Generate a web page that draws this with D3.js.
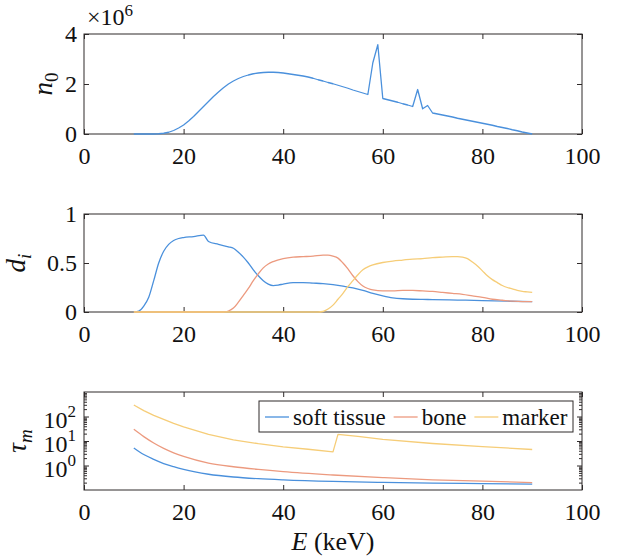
<!DOCTYPE html>
<html>
<head>
<meta charset="utf-8">
<script src="https://cdn.jsdelivr.net/npm/d3@7"></script>
<style>
  body { margin: 0; background: #fff; }
  svg { display: block; }
</style>
</head>
<body>
<svg id="chart" width="619" height="560" font-family="Liberation Serif"></svg>
<script>
// ---- data ----
var xTicks = [0, 20, 40, 60, 80, 100];

// incident spectrum n0 (x 10^6)
var spectrumEnergy = [10, 11, 12, 13, 14, 15, 16, 17, 18, 19, 20, 21, 22, 23, 24, 25, 26, 27, 28, 29,
  30, 31, 32, 33, 34, 35, 36, 37, 38, 39, 40, 41, 42, 43, 44, 45, 46, 47, 48, 49,
  50, 51, 52, 53, 54, 55, 56, 57, 58, 59, 60, 61, 62, 63, 64, 65, 66, 67, 68, 69,
  70, 71, 72, 73, 74, 75, 76, 77, 78, 79, 80, 81, 82, 83, 84, 85, 86, 87, 88, 89, 90];
var spectrumCounts = [0, 0, 0, 0, 0, 0.01, 0.03, 0.07, 0.14, 0.24, 0.36, 0.52, 0.70, 0.90, 1.10, 1.30, 1.50, 1.68, 1.85, 2.00,
  2.12, 2.22, 2.30, 2.36, 2.41, 2.44, 2.46, 2.47, 2.47, 2.46, 2.44, 2.41, 2.38, 2.35, 2.32, 2.28, 2.23, 2.17, 2.12, 2.06,
  2.01, 1.95, 1.89, 1.83, 1.76, 1.70, 1.64, 1.58, 2.85, 3.57, 1.42, 1.37, 1.32, 1.27, 1.21, 1.16, 1.10, 1.78, 1.01, 1.14,
  0.84, 0.80, 0.76, 0.72, 0.68, 0.63, 0.59, 0.55, 0.51, 0.47, 0.43, 0.39, 0.35, 0.30, 0.26, 0.22, 0.17, 0.13, 0.08, 0.04, 0];
var n0Ticks = [0, 2, 4];

// d_i per material
var tissueDEnergy = [10, 11, 12, 13, 14, 15, 16, 17, 18, 19, 20, 22, 24, 25, 27, 29, 30, 31, 32, 33, 34, 35, 36, 37, 38, 39,
  40, 42, 44, 46, 48, 50, 52, 54, 56, 58, 60, 62, 64, 66, 68, 70, 75, 80, 85, 90];
var tissueD = [0, 0.01, 0.06, 0.15, 0.32, 0.50, 0.62, 0.69, 0.73, 0.75, 0.76, 0.77, 0.785, 0.72, 0.69, 0.665, 0.65, 0.61, 0.56, 0.50, 0.43, 0.37, 0.32, 0.285, 0.27, 0.275,
  0.285, 0.30, 0.30, 0.295, 0.29, 0.28, 0.265, 0.245, 0.22, 0.19, 0.165, 0.145, 0.135, 0.13, 0.128, 0.127, 0.122, 0.117, 0.11, 0.105];
var boneDEnergy = [10, 28, 29, 30, 31, 32, 33, 34, 35, 36, 37, 38, 40, 42, 44, 46, 48, 49, 50, 51, 52, 53, 54, 55, 56, 57, 58,
  60, 62, 64, 66, 68, 70, 72, 74, 76, 78, 80, 82, 84, 86, 88, 90];
var boneD = [0, 0, 0.01, 0.04, 0.10, 0.17, 0.24, 0.32, 0.39, 0.45, 0.49, 0.515, 0.545, 0.56, 0.565, 0.57, 0.58, 0.58, 0.57, 0.55, 0.50, 0.44, 0.37, 0.31, 0.265, 0.24, 0.225,
  0.215, 0.215, 0.22, 0.22, 0.215, 0.21, 0.20, 0.19, 0.18, 0.165, 0.15, 0.13, 0.12, 0.11, 0.105, 0.105];
var markerDEnergy = [10, 47, 48, 49, 50, 51, 52, 53, 54, 55, 56, 57, 58, 60, 62, 64, 66, 68, 70, 72, 74, 75, 76, 77, 78, 79,
  80, 81, 82, 83, 84, 85, 86, 87, 88, 89, 90];
var markerD = [0, 0, 0.005, 0.03, 0.07, 0.13, 0.19, 0.26, 0.32, 0.38, 0.43, 0.46, 0.48, 0.505, 0.52, 0.53, 0.54, 0.545, 0.555, 0.56, 0.565, 0.565, 0.56, 0.545, 0.51, 0.47,
  0.42, 0.37, 0.33, 0.30, 0.27, 0.25, 0.235, 0.22, 0.21, 0.205, 0.20];
var dTicks = [0, 0.5, 1];

// tau_m per material (log axis)
var tauEnergy = [10, 12, 14, 16, 18, 20, 25, 30, 35, 40, 50, 60, 70, 80, 90];
var tissueTau = [5.2, 2.8, 1.78, 1.2, 0.89, 0.69, 0.44, 0.34, 0.29, 0.26, 0.224, 0.204, 0.19, 0.182, 0.174];
var boneTau = [30, 15.1, 8.3, 5.0, 3.3, 2.34, 1.26, 0.89, 0.69, 0.56, 0.41, 0.32, 0.26, 0.23, 0.20];
var markerTauEnergy = [10, 12, 14, 16, 18, 20, 25, 30, 35, 40, 45, 50, 51, 55, 60, 70, 80, 90];
var markerTau = [295, 174, 112, 76, 52, 38, 18.6, 11.2, 7.8, 5.75, 4.6, 3.6, 18.6, 15.5, 11.7, 7.9, 5.9, 4.5];
var tauTicks = [1, 10, 100];
var tauMinorTicks = [0.2, 0.3, 0.4, 0.5, 0.6, 0.7, 0.8, 0.9, 2, 3, 4, 5, 6, 7, 8, 9,
  20, 30, 40, 50, 60, 70, 80, 90, 200, 300, 400, 500, 600, 700, 800, 900];

var legendNames = ["soft tissue", "bone", "marker"];
var seriesColors = ["#4a90dc", "#ec9a7f", "#f6cd78"];

// ---- layout ----
var serif = "Liberation Serif";
var axisColor = "#2f2a2a";
var textColor = "#111111";
var left = 84, right = 582;
var svg = d3.select("#chart");

var x = d3.scaleLinear().domain([0, 100]).range([left, right]);

function zip(xs, ys) {
  return xs.map(function (d, i) { return [d, ys[i]]; });
}

// plain text node with attributes only (no css)
function label(parent, px, py, size) {
  return parent.append("text")
    .attr("x", px).attr("y", py)
    .attr("font-family", serif)
    .attr("font-size", size)
    .attr("fill", textColor);
}

function drawFrame(top, height, y, yTicks, yFormat, yMinor) {
  var bottom = top + height;
  var g = svg.append("g").attr("color", axisColor);

  g.append("g").attr("transform", "translate(0," + bottom + ")")
    .call(d3.axisBottom(x).tickValues(xTicks).tickSizeInner(-5).tickSizeOuter(0)
      .tickPadding(13).tickFormat(d3.format("d")));
  g.append("g").attr("transform", "translate(0," + top + ")")
    .call(d3.axisTop(x).tickValues(xTicks).tickSizeInner(-5).tickSizeOuter(0).tickFormat(""));

  g.append("g").attr("transform", "translate(" + left + ",0)")
    .call(d3.axisLeft(y).tickValues(yTicks).tickSizeInner(-5).tickSizeOuter(0)
      .tickPadding(7).tickFormat(yFormat || ""));
  g.append("g").attr("transform", "translate(" + right + ",0)")
    .call(d3.axisRight(y).tickValues(yTicks).tickSizeInner(-5).tickSizeOuter(0).tickFormat(""));

  if (yMinor) {
    g.append("g").attr("transform", "translate(" + left + ",0)")
      .call(d3.axisLeft(y).tickValues(yMinor).tickSizeInner(-3).tickSizeOuter(0).tickFormat(""));
    g.append("g").attr("transform", "translate(" + right + ",0)")
      .call(d3.axisRight(y).tickValues(yMinor).tickSizeInner(-3).tickSizeOuter(0).tickFormat(""));
  }

  g.selectAll(".domain").remove();
  g.selectAll("g").attr("font-family", serif).attr("font-size", 24);
  g.selectAll(".tick text")
    .attr("font-family", serif).attr("font-size", 24).attr("fill", textColor);

  g.append("rect")
    .attr("x", left).attr("y", top)
    .attr("width", right - left).attr("height", height)
    .attr("fill", "none").attr("stroke", axisColor).attr("stroke-width", 1);
  return g;
}

function drawSeries(points, y, color, curve) {
  var line = d3.line()
    .x(function (d) { return x(d[0]); })
    .y(function (d) { return y(d[1]); })
    .curve(curve || d3.curveLinear);
  svg.append("path")
    .datum(points)
    .attr("fill", "none")
    .attr("stroke", color)
    .attr("stroke-width", 1.3)
    .attr("stroke-linejoin", "round")
    .attr("d", line);
}

function yLabel(cx, cy, main, sub, subItalic) {
  var t = label(svg, 0, 0, 27)
    .attr("transform", "translate(" + cx + "," + cy + ") rotate(-90)")
    .attr("text-anchor", "middle");
  t.append("tspan").attr("font-style", "italic").text(main);
  t.append("tspan").attr("dy", 6).attr("font-size", 19)
    .attr("font-style", subItalic ? "italic" : "normal").text(sub);
}

// ---- panel 1: spectrum ----
var y1 = d3.scaleLinear().domain([0, 4]).range([134, 34]);
drawFrame(34, 100, y1, n0Ticks, d3.format("d"));
drawSeries(zip(spectrumEnergy, spectrumCounts), y1, seriesColors[0]);
yLabel(52, 84, "n", "0", false);

var exp = label(svg, 87, 25, 24);
exp.append("tspan").text("\u00d710");
exp.append("tspan").attr("dy", -9).attr("font-size", 17).text("6");

// ---- panel 2: d_i ----
var y2 = d3.scaleLinear().domain([0, 1]).range([312, 214]);
drawFrame(214, 98, y2, dTicks, function (d) { return d === 0.5 ? "0.5" : d3.format("d")(d); });
drawSeries(zip(tissueDEnergy, tissueD), y2, seriesColors[0], d3.curveMonotoneX);
drawSeries(zip(boneDEnergy, boneD), y2, seriesColors[1], d3.curveMonotoneX);
drawSeries(zip(markerDEnergy, markerD), y2, seriesColors[2], d3.curveMonotoneX);
yLabel(25, 263, "d", "i", true);

// ---- panel 3: tau_m ----
var y3 = d3.scaleLog().domain([0.1, 1000]).range([490, 392]);
var f3 = drawFrame(392, 98, y3, tauTicks, null, tauMinorTicks);
tauTicks.forEach(function (d) {
  var t = label(f3, left - 8, y3(d) + 11, 24).attr("text-anchor", "end");
  t.append("tspan").text("10");
  t.append("tspan").attr("dy", -11).attr("font-size", 17).text(Math.round(Math.log10(d)));
});

drawSeries(zip(tauEnergy, tissueTau), y3, seriesColors[0], d3.curveMonotoneX);
drawSeries(zip(tauEnergy, boneTau), y3, seriesColors[1], d3.curveMonotoneX);
drawSeries(zip(markerTauEnergy, markerTau), y3, seriesColors[2], d3.curveLinear);
yLabel(26, 441, "\u03c4", "m", true);

// legend
var legend = svg.append("g");
legend.append("rect")
  .attr("x", 259).attr("y", 401).attr("width", 314).attr("height", 31)
  .attr("fill", "#fff").attr("stroke", axisColor).attr("stroke-width", 1);
var lx = 265;
legendNames.forEach(function (name, i) {
  legend.append("line")
    .attr("x1", lx).attr("x2", lx + 24)
    .attr("y1", 417).attr("y2", 417)
    .attr("stroke", seriesColors[i]).attr("stroke-width", 1.3);
  var t = label(legend, lx + 28, 425, 23).text(name);
  lx += 28 + t.node().getComputedTextLength() + 8;
});

// x label
var xl = label(svg, (left + right) / 2, 550, 26).attr("text-anchor", "middle");
xl.append("tspan").attr("font-style", "italic").text("E");
xl.append("tspan").text(" (keV)");
</script>
</body>
</html>
